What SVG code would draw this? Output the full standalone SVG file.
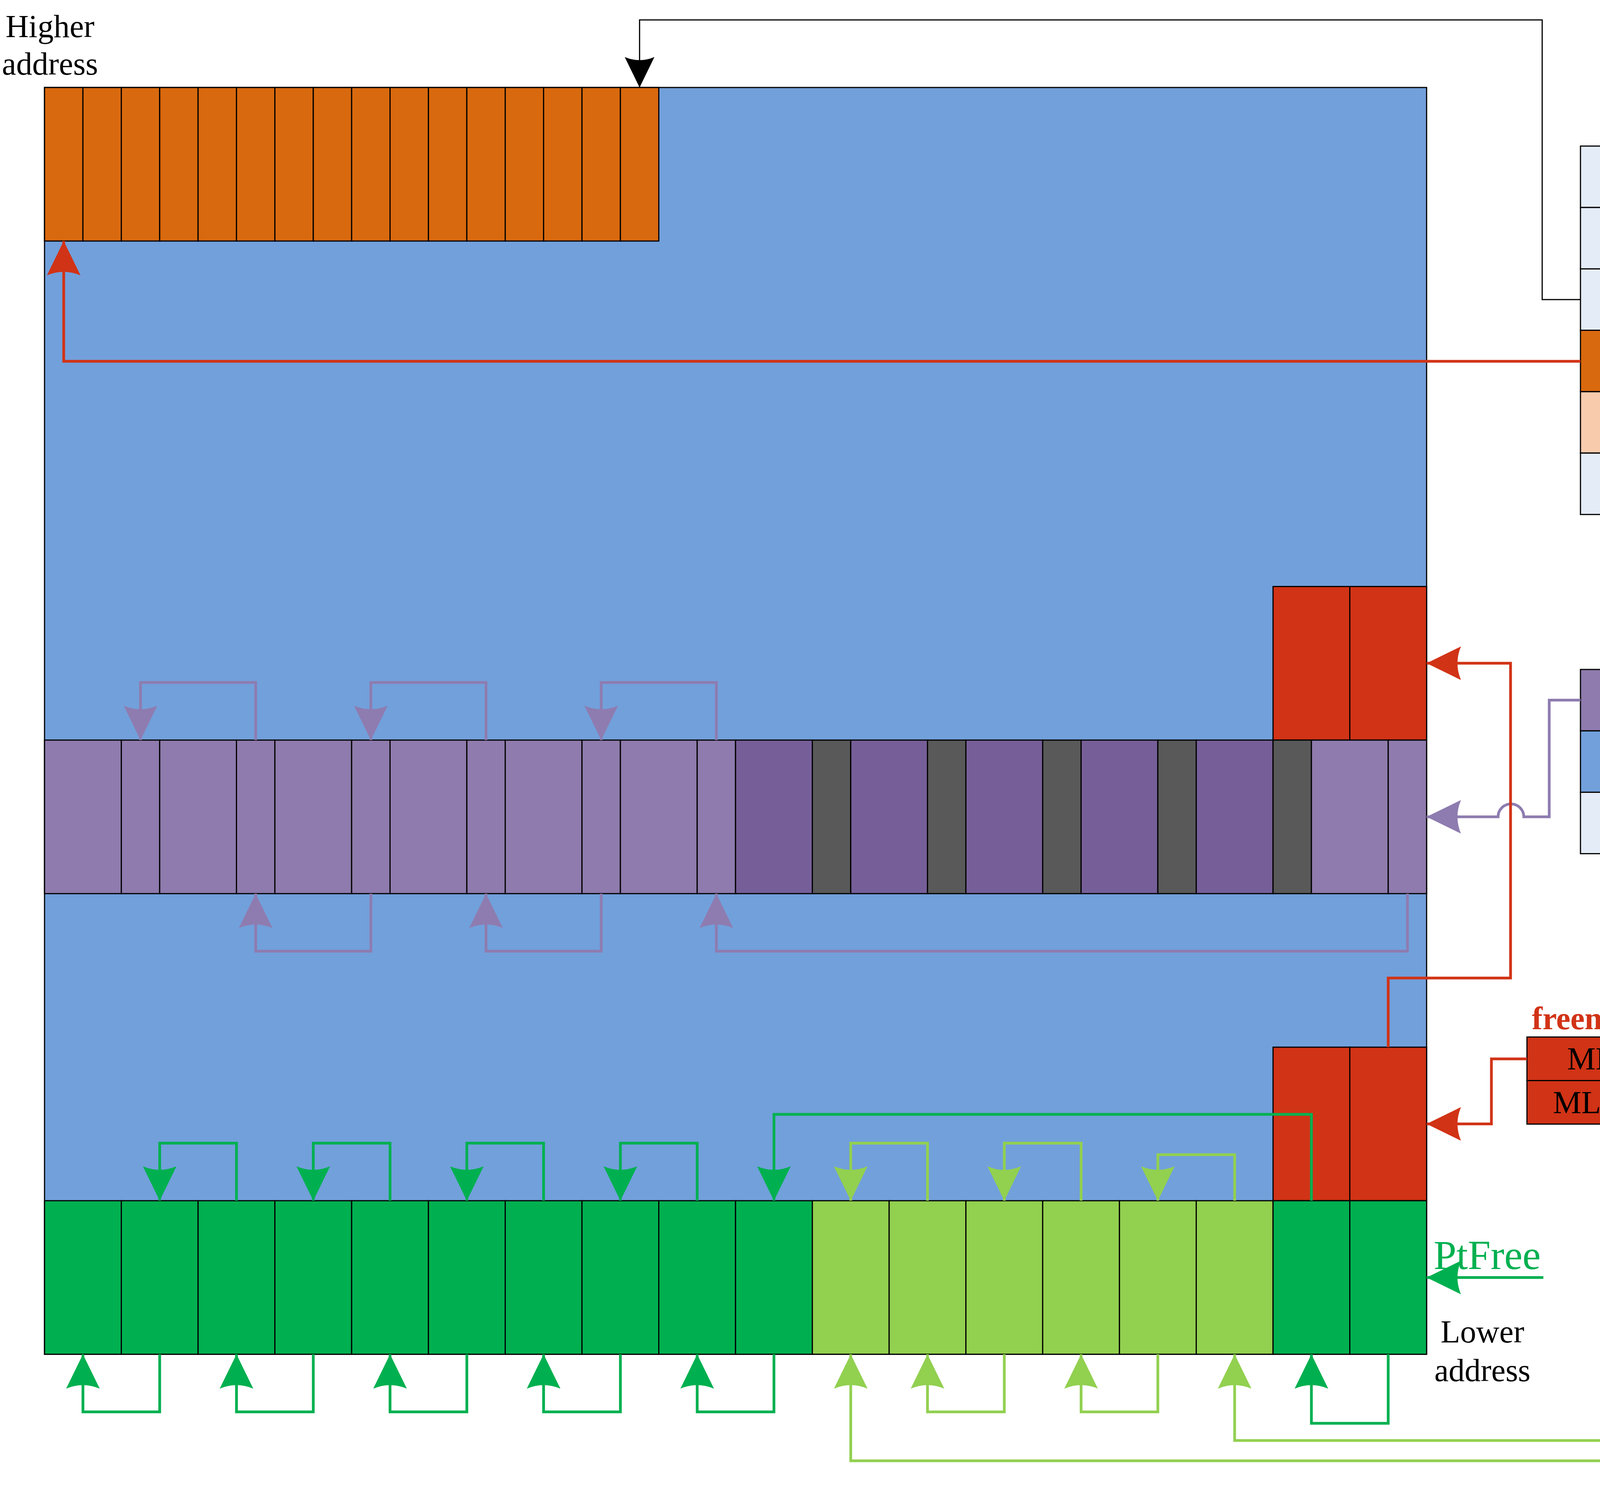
<svg xmlns="http://www.w3.org/2000/svg" width="7708" height="3825" viewBox="0 0 7708 3825">
<style>
.cell{stroke:#000;stroke-width:3}
.t{font-family:"Liberation Serif","Times New Roman",serif;font-size:110px;text-anchor:middle;fill:#000}
.s{font-size:82px}
.q{font-size:76px}
.c{fill:none;stroke-width:7;stroke-linejoin:miter}
.k{fill:none;stroke:#000;stroke-width:3}
.lt{fill:#E4ECF7}
.or{fill:#D9690E}
.rd{fill:#D13316}
.lp{fill:#8F7BAD}
.dp{fill:#765F99}
.gy{fill:#595959}
.dg{fill:#00B050}
.lg{fill:#92D050}
.pe{fill:#F8CBAD}
.bl{fill:#72A0DB}
.ol{fill:#86A447}
.lv{fill:#BFB1D3}
</style>
<defs>
<marker id="aK" markerUnits="userSpaceOnUse" markerWidth="100" markerHeight="100" viewBox="-90 -50 100 100" refX="0" refY="0" orient="auto"><path d="M0,0 L-78,-38 Q-62,0 -78,38 Z" fill="#000"/></marker>
<marker id="aR" markerUnits="userSpaceOnUse" markerWidth="100" markerHeight="100" viewBox="-95 -50 100 100" refX="0" refY="0" orient="auto"><path d="M0,0 L-88,-43 Q-70,0 -88,43 Z" fill="#D13316"/></marker>
<marker id="aP" markerUnits="userSpaceOnUse" markerWidth="100" markerHeight="100" viewBox="-95 -50 100 100" refX="0" refY="0" orient="auto"><path d="M0,0 L-88,-43 Q-70,0 -88,43 Z" fill="#8E7CB0"/></marker>
<marker id="aG" markerUnits="userSpaceOnUse" markerWidth="100" markerHeight="100" viewBox="-95 -50 100 100" refX="0" refY="0" orient="auto"><path d="M0,0 L-88,-43 Q-70,0 -88,43 Z" fill="#00B050"/></marker>
<marker id="aL" markerUnits="userSpaceOnUse" markerWidth="100" markerHeight="100" viewBox="-95 -50 100 100" refX="0" refY="0" orient="auto"><path d="M0,0 L-88,-43 Q-70,0 -88,43 Z" fill="#92D050"/></marker>
<marker id="aE" markerUnits="userSpaceOnUse" markerWidth="100" markerHeight="100" viewBox="-95 -50 100 100" refX="0" refY="0" orient="auto"><path d="M0,0 L-88,-43 Q-70,0 -88,43 Z" fill="#F8CBAD"/></marker>
<marker id="aB" markerUnits="userSpaceOnUse" markerWidth="100" markerHeight="100" viewBox="-95 -50 100 100" refX="0" refY="0" orient="auto"><path d="M0,0 L-88,-43 Q-70,0 -88,43 Z" fill="#72A0DB"/></marker>
<marker id="aO" markerUnits="userSpaceOnUse" markerWidth="100" markerHeight="100" viewBox="-95 -50 100 100" refX="0" refY="0" orient="auto"><path d="M0,0 L-88,-43 Q-70,0 -88,43 Z" fill="#86A447"/></marker>
<marker id="aV" markerUnits="userSpaceOnUse" markerWidth="100" markerHeight="100" viewBox="-95 -50 100 100" refX="0" refY="0" orient="auto"><path d="M0,0 L-88,-43 Q-70,0 -88,43 Z" fill="#BFB1D3"/></marker>
</defs>
<rect width="7708" height="3825" fill="#fff"/>

<g id="memory">
<rect x="114" y="224" width="3538.1" height="3243.2" fill="#72A0DB" stroke="#000" stroke-width="3"/>
<g id="stack">
<rect class="cell or" x="114" y="224" width="98.3" height="393.1"/>
<rect class="cell or" x="212.3" y="224" width="98.3" height="393.1"/>
<rect class="cell or" x="310.6" y="224" width="98.3" height="393.1"/>
<rect class="cell or" x="408.8" y="224" width="98.3" height="393.1"/>
<rect class="cell or" x="507.1" y="224" width="98.3" height="393.1"/>
<rect class="cell or" x="605.4" y="224" width="98.3" height="393.1"/>
<rect class="cell or" x="703.7" y="224" width="98.3" height="393.1"/>
<rect class="cell or" x="802" y="224" width="98.3" height="393.1"/>
<rect class="cell or" x="900.2" y="224" width="98.3" height="393.1"/>
<rect class="cell or" x="998.5" y="224" width="98.3" height="393.1"/>
<rect class="cell or" x="1096.8" y="224" width="98.3" height="393.1"/>
<rect class="cell or" x="1195.1" y="224" width="98.3" height="393.1"/>
<rect class="cell or" x="1293.4" y="224" width="98.3" height="393.1"/>
<rect class="cell or" x="1391.6" y="224" width="98.3" height="393.1"/>
<rect class="cell or" x="1489.9" y="224" width="98.3" height="393.1"/>
<rect class="cell or" x="1588.2" y="224" width="98.3" height="393.1"/>
</g>
<g id="freeblock-upper">
<rect class="cell rd" x="3259" y="1501.6" width="196.5" height="393.2"/>
<rect class="cell rd" x="3455.5" y="1501.6" width="196.6" height="393.2"/>
</g>
<g id="buffer-pool">
<rect class="cell lp" x="114" y="1894.8" width="196.6" height="393.1"/>
<rect class="cell lp" x="310.6" y="1894.8" width="98.2" height="393.1"/>
<rect class="cell lp" x="408.8" y="1894.8" width="196.6" height="393.1"/>
<rect class="cell lp" x="605.4" y="1894.8" width="98.3" height="393.1"/>
<rect class="cell lp" x="703.7" y="1894.8" width="196.5" height="393.1"/>
<rect class="cell lp" x="900.2" y="1894.8" width="98.3" height="393.1"/>
<rect class="cell lp" x="998.5" y="1894.8" width="196.6" height="393.1"/>
<rect class="cell lp" x="1195.1" y="1894.8" width="98.3" height="393.1"/>
<rect class="cell lp" x="1293.4" y="1894.8" width="196.5" height="393.1"/>
<rect class="cell lp" x="1489.9" y="1894.8" width="98.3" height="393.1"/>
<rect class="cell lp" x="1588.2" y="1894.8" width="196.6" height="393.1"/>
<rect class="cell lp" x="1784.8" y="1894.8" width="98.2" height="393.1"/>
<rect class="cell dp" x="1883" y="1894.8" width="196.6" height="393.1"/>
<rect class="cell gy" x="2079.6" y="1894.8" width="98.3" height="393.1"/>
<rect class="cell dp" x="2177.9" y="1894.8" width="196.5" height="393.1"/>
<rect class="cell gy" x="2374.4" y="1894.8" width="98.3" height="393.1"/>
<rect class="cell dp" x="2472.7" y="1894.8" width="196.6" height="393.1"/>
<rect class="cell gy" x="2669.3" y="1894.8" width="98.3" height="393.1"/>
<rect class="cell dp" x="2767.6" y="1894.8" width="196.5" height="393.1"/>
<rect class="cell gy" x="2964.1" y="1894.8" width="98.3" height="393.1"/>
<rect class="cell dp" x="3062.4" y="1894.8" width="196.6" height="393.1"/>
<rect class="cell gy" x="3259" y="1894.8" width="98.2" height="393.1"/>
<rect class="cell lp" x="3357.2" y="1894.8" width="196.6" height="393.1"/>
<rect class="cell lp" x="3553.8" y="1894.8" width="98.3" height="393.1"/>
</g>
<g id="freeblock-lower">
<rect class="cell rd" x="3259" y="2681" width="196.5" height="393.1"/>
<rect class="cell rd" x="3455.5" y="2681" width="196.6" height="393.1"/>
</g>
<g id="ports">
<rect class="cell dg" x="114" y="3074.1" width="196.6" height="393.1"/>
<rect class="cell dg" x="310.6" y="3074.1" width="196.5" height="393.1"/>
<rect class="cell dg" x="507.1" y="3074.1" width="196.6" height="393.1"/>
<rect class="cell dg" x="703.7" y="3074.1" width="196.5" height="393.1"/>
<rect class="cell dg" x="900.2" y="3074.1" width="196.6" height="393.1"/>
<rect class="cell dg" x="1096.8" y="3074.1" width="196.6" height="393.1"/>
<rect class="cell dg" x="1293.4" y="3074.1" width="196.5" height="393.1"/>
<rect class="cell dg" x="1489.9" y="3074.1" width="196.6" height="393.1"/>
<rect class="cell dg" x="1686.5" y="3074.1" width="196.5" height="393.1"/>
<rect class="cell dg" x="1883" y="3074.1" width="196.6" height="393.1"/>
<rect class="cell lg" x="2079.6" y="3074.1" width="196.6" height="393.1"/>
<rect class="cell lg" x="2276.2" y="3074.1" width="196.5" height="393.1"/>
<rect class="cell lg" x="2472.7" y="3074.1" width="196.6" height="393.1"/>
<rect class="cell lg" x="2669.3" y="3074.1" width="196.5" height="393.1"/>
<rect class="cell lg" x="2865.8" y="3074.1" width="196.6" height="393.1"/>
<rect class="cell lg" x="3062.4" y="3074.1" width="196.6" height="393.1"/>
<rect class="cell dg" x="3259" y="3074.1" width="196.5" height="393.1"/>
<rect class="cell dg" x="3455.5" y="3074.1" width="196.6" height="393.1"/>
</g>
</g>

<g id="procent">
<text class="t" x="4352" y="314">ProcEnt</text>
<rect class="cell lt" x="4046" y="374" width="629" height="157.2"/>
<rect class="cell lt" x="4046" y="531.2" width="629" height="157.2"/>
<rect class="cell lt" x="4046" y="688.4" width="629" height="157.2"/>
<rect class="cell or" x="4046" y="845.6" width="629" height="157.2"/>
<rect class="cell pe" x="4046" y="1002.8" width="629" height="157.2"/>
<rect class="cell lt" x="4046" y="1160" width="629" height="157.2"/>
<text class="t" x="4360" y="487">PrState</text>
<text class="t" x="4360" y="644">PrPrio</text>
<text class="t" x="4360" y="801">PrStkPtr</text>
<text class="t" x="4360" y="959">PrStkBase</text>
<text class="t" x="4360" y="1116">PrSem</text>
<text class="t" x="4360" y="1273">PrMsg</text>
</g>

<g id="bpentry">
<text class="t" x="4352" y="1653">BpEntry</text>
<rect class="cell lp" x="4046" y="1714" width="629" height="157.2"/>
<rect class="cell bl" x="4046" y="1871.2" width="629" height="157.2"/>
<rect class="cell lt" x="4046" y="2028.4" width="629" height="157.2"/>
<text class="t" x="4360" y="1827">BpNext</text>
<text class="t" x="4360" y="1984">BpSem</text>
<text class="t" x="4360" y="2141">BpSize</text>
</g>

<g id="freememlist">
<text class="t s" x="4128" y="2635" font-weight="bold" style="fill:#D13316">freememlist</text>
<rect class="cell rd" x="3909" y="2655" width="439" height="111.5"/>
<rect class="cell rd" x="3909" y="2766.5" width="439" height="111.5"/>
<text class="t s" x="4128" y="2738">MNext</text>
<text class="t s" x="4128" y="2850">MLength</text>
</g>

<g id="ptentry">
<text class="t" x="4708" y="2655">PtEntry</text>
<rect class="cell ol" x="4401" y="2718" width="627" height="157.2"/>
<rect class="cell lv" x="4401" y="2875.2" width="627" height="157.2"/>
<rect class="cell lt" x="4401" y="3032.4" width="627" height="157.2"/>
<rect class="cell lt" x="4401" y="3189.6" width="627" height="157.2"/>
<rect class="cell lt" x="4401" y="3346.8" width="627" height="157.2"/>
<rect class="cell lg" x="4401" y="3504" width="627" height="157.2"/>
<rect class="cell lg" x="4401" y="3661.2" width="627" height="157.2"/>
<text class="t" x="4714" y="2831">PtSsem</text>
<text class="t" x="4714" y="2988">PtRsem</text>
<text class="t" x="4714" y="3145">PsState</text>
<text class="t" x="4714" y="3303">PtMaxCnt</text>
<text class="t" x="4714" y="3460">PtSeq</text>
<text class="t" x="4714" y="3617">PtHead</text>
<text class="t" x="4714" y="3774">PtTail</text>
</g>

<g id="semtab">
<text class="t" x="5791" y="789">SemTab</text>
<rect class="cell pe" x="5481" y="846" width="629" height="157.2"/>
<rect class="cell pe" x="5481" y="1003.2" width="629" height="157.2"/>
<rect class="cell pe" x="5481" y="1160.4" width="629" height="157.2"/>
<rect class="cell bl" x="5481" y="1317.6" width="629" height="157.2"/>
<rect class="cell bl" x="5481" y="1474.8" width="629" height="157.2"/>
<rect class="cell bl" x="5481" y="1632" width="629" height="157.2"/>
<rect class="cell ol" x="5481" y="1789.2" width="629" height="157.2"/>
<rect class="cell ol" x="5481" y="1946.4" width="629" height="157.2"/>
<rect class="cell ol" x="5481" y="2103.6" width="629" height="157.2"/>
<rect class="cell lv" x="5481" y="2260.8" width="629" height="157.2"/>
<rect class="cell lv" x="5481" y="2418" width="629" height="157.2"/>
<rect class="cell lv" x="5481" y="2575.2" width="629" height="157.2"/>
<text class="t" x="5795" y="959">SState</text>
<text class="t" x="5795" y="1116">SCount</text>
<text class="t" x="5795" y="1273">SQueue</text>
<text class="t" x="5795" y="1431">SState</text>
<text class="t" x="5795" y="1588">SCount</text>
<text class="t" x="5795" y="1745">SQueue</text>
<text class="t" x="5795" y="1902">SState</text>
<text class="t" x="5795" y="2059">SCount</text>
<text class="t" x="5795" y="2217">SQueue</text>
<text class="t" x="5795" y="2374">SState</text>
<text class="t" x="5795" y="2531">SCount</text>
<text class="t" x="5795" y="2688">SQueue</text>
</g>

<g id="queuetab">
<text class="t" x="7440" y="114">Queuetab</text>
<rect class="cell" fill="#fff" x="7190" y="181" width="513" height="69.9"/>
<rect class="cell" fill="#fff" x="7190" y="250.9" width="513" height="69.9"/>
<rect class="cell" fill="#fff" x="7190" y="320.8" width="513" height="69.9"/>
<g fill="#93CDDD"><rect class="cell" x="7190" y="390.7" width="513" height="69.9"/><rect class="cell" x="7190" y="460.6" width="513" height="69.9"/><rect class="cell" x="7190" y="530.4" width="513" height="69.9"/></g>
<g fill="#EACCCB"><rect class="cell" x="7190" y="600.3" width="513" height="69.9"/><rect class="cell" x="7190" y="670.2" width="513" height="69.9"/><rect class="cell" x="7190" y="740.1" width="513" height="69.9"/></g>
<g fill="#CC7168"><rect class="cell" x="7190" y="810" width="513" height="69.9"/><rect class="cell" x="7190" y="879.9" width="513" height="69.9"/><rect class="cell" x="7190" y="949.8" width="513" height="69.9"/></g>
<g fill="#9E3B36"><rect class="cell" x="7190" y="1019.7" width="513" height="69.9"/><rect class="cell" x="7190" y="1089.6" width="513" height="69.9"/><rect class="cell" x="7190" y="1159.4" width="513" height="69.9"/></g>
<g fill="#BFBFBF"><rect class="cell" x="7190" y="1229.3" width="513" height="69.9"/><rect class="cell" x="7190" y="1299.2" width="513" height="69.9"/><rect class="cell" x="7190" y="1369.1" width="513" height="69.9"/></g>
<g fill="#8C8C8C"><rect class="cell" x="7190" y="1439" width="513" height="69.9"/><rect class="cell" x="7190" y="1508.9" width="513" height="69.9"/><rect class="cell" x="7190" y="1578.8" width="513" height="69.9"/></g>
<g fill="#F8CBAD"><rect class="cell" x="7190" y="1648.7" width="513" height="69.9"/><rect class="cell" x="7190" y="1718.6" width="513" height="69.9"/><rect class="cell" x="7190" y="1788.4" width="513" height="69.9"/></g>
<g fill="#F08229"><rect class="cell" x="7190" y="1858.3" width="513" height="69.9"/><rect class="cell" x="7190" y="1928.2" width="513" height="69.9"/><rect class="cell" x="7190" y="1998.1" width="513" height="69.9"/></g>
<g fill="#72A0DB"><rect class="cell" x="7190" y="2068" width="513" height="69.9"/><rect class="cell" x="7190" y="2137.9" width="513" height="69.9"/><rect class="cell" x="7190" y="2207.8" width="513" height="69.9"/></g>
<g fill="#3276CC"><rect class="cell" x="7190" y="2277.7" width="513" height="69.9"/><rect class="cell" x="7190" y="2347.6" width="513" height="69.9"/><rect class="cell" x="7190" y="2417.4" width="513" height="69.9"/></g>
<g fill="#86A447"><rect class="cell" x="7190" y="2487.3" width="513" height="69.9"/><rect class="cell" x="7190" y="2557.2" width="513" height="69.9"/><rect class="cell" x="7190" y="2627.1" width="513" height="69.9"/></g>
<g fill="#6A803A"><rect class="cell" x="7190" y="2697" width="513" height="69.9"/><rect class="cell" x="7190" y="2766.9" width="513" height="69.9"/><rect class="cell" x="7190" y="2836.8" width="513" height="69.9"/></g>
<g fill="#BFB1D3"><rect class="cell" x="7190" y="2906.7" width="513" height="69.9"/><rect class="cell" x="7190" y="2976.6" width="513" height="69.9"/><rect class="cell" x="7190" y="3046.4" width="513" height="69.9"/></g>
<g fill="#927CAC"><rect class="cell" x="7190" y="3116.3" width="513" height="69.9"/><rect class="cell" x="7190" y="3186.2" width="513" height="69.9"/><rect class="cell" x="7190" y="3256.1" width="513" height="69.9"/></g>
<text class="t q" x="7447" y="242">QKey</text>
<text class="t q" x="7447" y="312">QNext</text>
<text class="t q" x="7447" y="382">QPrev</text>
</g>

<g id="labels">
<text class="t s" x="128" y="95">Higher</text>
<text class="t s" x="128" y="191">address</text>
<text class="t" x="3670" y="3249" style="text-anchor:start;fill:#00B050;font-size:105px">PtFree</text>
<text class="t s" x="3795" y="3437">Lower</text>
<text class="t s" x="3795" y="3536">address</text>
<text class="t" x="6971" y="878" style="text-anchor:end">ReadyList</text>
<text class="t" x="6957" y="1292" style="text-anchor:end">sleepq</text>
<text class="t" x="7157" y="3048" style="text-anchor:end">head</text>
<text class="t" x="7132" y="3243" style="text-anchor:end">tail</text>
</g>

<g id="connectors">
<path class="k" d="M4046,767 H3948 V51 H1637.3 V224" marker-end="url(#aK)"/>
<path class="k" d="M6995,845 H7190" marker-end="url(#aK)"/>
<path class="k" d="M6995,1264 H7190" marker-end="url(#aK)"/>
<g stroke="#8E7CB0">
<path class="c" d="M654.5,1894.8 V1747.3 H359.7 V1894.8" marker-end="url(#aP)"/>
<path class="c" d="M1244.2,1894.8 V1747.3 H949.4 V1894.8" marker-end="url(#aP)"/>
<path class="c" d="M1833.9,1894.8 V1747.3 H1539.1 V1894.8" marker-end="url(#aP)"/>
<path class="c" d="M949.4,2287.9 V2435.3 H654.5 V2287.9" marker-end="url(#aP)"/>
<path class="c" d="M1539.1,2287.9 V2435.3 H1244.2 V2287.9" marker-end="url(#aP)"/>
<path class="c" d="M3603,2287.9 V2435.3 H1833.9 V2287.9" marker-end="url(#aP)"/>
<path class="c" d="M4046,1792.6 H3966 V2091.3 H3901 A33,33 0 0 0 3835,2091.3 H3652.1" marker-end="url(#aP)"/>
</g>
<g stroke="#00B050">
<path class="c" d="M605.4,3074.1 V2926.7 H408.8 V3074.1" marker-end="url(#aG)"/>
<path class="c" d="M998.5,3074.1 V2926.7 H802 V3074.1" marker-end="url(#aG)"/>
<path class="c" d="M1391.6,3074.1 V2926.7 H1195.1 V3074.1" marker-end="url(#aG)"/>
<path class="c" d="M1784.8,3074.1 V2926.7 H1588.2 V3074.1" marker-end="url(#aG)"/>
<path class="c" d="M3357.2,3074.1 V2853 H1981.3 V3074.1" marker-end="url(#aG)"/>
<path class="c" d="M408.8,3467.2 V3614.7 H212.3 V3467.2" marker-end="url(#aG)"/>
<path class="c" d="M802,3467.2 V3614.7 H605.4 V3467.2" marker-end="url(#aG)"/>
<path class="c" d="M1195.1,3467.2 V3614.7 H998.5 V3467.2" marker-end="url(#aG)"/>
<path class="c" d="M1588.2,3467.2 V3614.7 H1391.6 V3467.2" marker-end="url(#aG)"/>
<path class="c" d="M1981.3,3467.2 V3614.7 H1784.8 V3467.2" marker-end="url(#aG)"/>
<path class="c" d="M3553.8,3467.2 V3644.1 H3357.2 V3467.2" marker-end="url(#aG)"/>
<path class="c" d="M3951,3270.7 H3652.1" marker-end="url(#aG)"/>
</g>
<g stroke="#92D050">
<path class="c" d="M2374.4,3074.1 V2926.7 H2177.9 V3074.1" marker-end="url(#aL)"/>
<path class="c" d="M2767.6,3074.1 V2926.7 H2571 V3074.1" marker-end="url(#aL)"/>
<path class="c" d="M3160.7,3074.1 V2956.2 H2964.1 V3074.1" marker-end="url(#aL)"/>
<path class="c" d="M2571,3467.2 V3614.7 H2374.4 V3467.2" marker-end="url(#aL)"/>
<path class="c" d="M2964.1,3467.2 V3614.7 H2767.6 V3467.2" marker-end="url(#aL)"/>
<path class="c" d="M4401,3583 H4242 V3688 H3160.7 V3467.2" marker-end="url(#aL)"/>
<path class="c" d="M4401,3740 H2177.9 V3467.2" marker-end="url(#aL)"/>
</g>
<g stroke="#D13316">
<path class="c" d="M4046,925 H163.1 V617.1" marker-end="url(#aR)"/>
<path class="c" d="M3553.8,2681 V2504 H3867 V1698 H3652.1" marker-end="url(#aR)"/>
<path class="c" d="M3909,2711 H3818 V2877.6 H3652.1" marker-end="url(#aR)"/>
</g>
<path class="c" stroke="#F8CBAD" d="M4675,1082 H4931 V925 H5481" marker-end="url(#aE)"/>
<path class="c" stroke="#72A0DB" d="M4675,1950 H5020 V1396 H5481" marker-end="url(#aB)"/>
<path class="c" stroke="#86A447" d="M5028,2796 H5119 V1868 H5481" marker-end="url(#aO)"/>
<path class="c" stroke="#BFB1D3" d="M5028,2954 H5225 V2339 H5481" marker-end="url(#aV)"/>
<path class="c" stroke="#F8CBAD" d="M6110,1239 H6407 V1683.6 H7190" marker-end="url(#aE)"/>
<path class="c" stroke="#72A0DB" d="M6110,1711 H6306 V2103 H7190" marker-end="url(#aB)"/>
<path class="c" stroke="#86A447" d="M6110,2182 H6306 V2522.2 H7190" marker-end="url(#aO)"/>
<path class="c" stroke="#BFB1D3" d="M6110,2654 H6306 V2941.6 H7190" marker-end="url(#aV)"/>
</g>
</svg>
